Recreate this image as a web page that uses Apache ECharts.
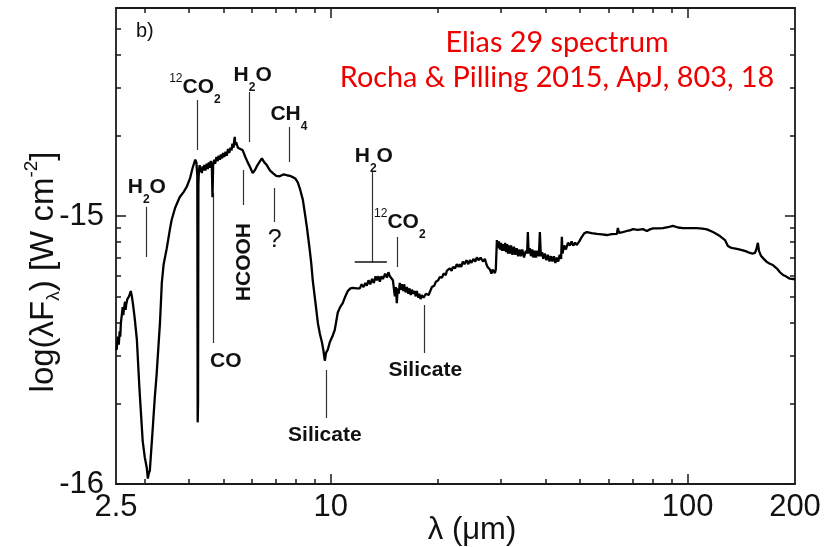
<!DOCTYPE html>
<html><head><meta charset="utf-8">
<script src="https://cdn.jsdelivr.net/npm/echarts@6/dist/echarts.min.js"></script>
<style>html,body{margin:0;padding:0;background:#fff}#c{width:825px;height:547px}</style>
</head><body><div id="c"></div>
<script>
// ---- spectrum: [wavelength (micron), log10(lambda F_lambda) (W cm^-2)]
const spectrum = [
[2.51,-15.50],[2.53,-15.45],[2.545,-15.48],[2.56,-15.43],[2.57,-15.45],[2.58,-15.40],[2.595,-15.37],[2.61,-15.34],[2.62,-15.37],[2.63,-15.35],[2.65,-15.32],[2.66,-15.35],[2.67,-15.33],[2.69,-15.31],[2.72,-15.30],[2.75,-15.28],[2.77,-15.30],[2.79,-15.33],[2.82,-15.38],[2.86,-15.46],[2.91,-15.65],[2.97,-15.84],[3.01,-15.90],[3.05,-15.94],[3.07,-15.98],[3.09,-15.96],[3.11,-15.95],[3.14,-15.87],[3.17,-15.79],[3.21,-15.68],[3.25,-15.59],[3.29,-15.48],[3.32,-15.40],[3.36,-15.25],[3.40,-15.18],[3.47,-15.12],[3.54,-15.05],[3.58,-15.015],[3.66,-14.97],[3.77,-14.93],[3.87,-14.91],[3.95,-14.89],[4.03,-14.86],[4.10,-14.82],[4.17,-14.79],[4.20,-14.80],[4.225,-14.85],[4.235,-15.77],[4.245,-15.70],[4.255,-14.88],[4.27,-14.83],[4.29,-14.81],[4.31,-14.835],[4.33,-14.82],[4.35,-14.84],[4.37,-14.815],[4.39,-14.83],[4.42,-14.81],[4.45,-14.83],[4.49,-14.805],[4.52,-14.825],[4.55,-14.80],[4.58,-14.82],[4.61,-14.795],[4.64,-14.81],[4.66,-14.93],[4.68,-14.81],[4.71,-14.79],[4.74,-14.805],[4.78,-14.78],[4.82,-14.795],[4.85,-14.775],[4.89,-14.79],[4.92,-14.77],[4.96,-14.785],[4.99,-14.765],[5.03,-14.78],[5.07,-14.76],[5.11,-14.775],[5.15,-14.75],[5.19,-14.765],[5.23,-14.745],[5.27,-14.755],[5.30,-14.73],[5.34,-14.745],[5.36,-14.72],[5.38,-14.705],[5.40,-14.735],[5.43,-14.725],[5.49,-14.745],[5.56,-14.75],[5.665,-14.755],[5.76,-14.78],[5.85,-14.80],[5.95,-14.82],[6.04,-14.84],[6.12,-14.83],[6.20,-14.815],[6.30,-14.80],[6.41,-14.785],[6.51,-14.80],[6.615,-14.81],[6.75,-14.83],[6.88,-14.84],[7.03,-14.85],[7.19,-14.852],[7.36,-14.845],[7.53,-14.848],[7.68,-14.85],[7.82,-14.855],[7.95,-14.86],[8.08,-14.875],[8.20,-14.90],[8.35,-14.94],[8.46,-14.99],[8.565,-15.04],[8.65,-15.085],[8.73,-15.127],[8.82,-15.18],[8.90,-15.24],[9.05,-15.32],[9.20,-15.40],[9.32,-15.44],[9.44,-15.47],[9.53,-15.50],[9.62,-15.54],[9.70,-15.51],[9.80,-15.50],[9.94,-15.47],[10.10,-15.45],[10.26,-15.425],[10.46,-15.36],[10.62,-15.34],[10.80,-15.325],[10.98,-15.30],[11.16,-15.28],[11.35,-15.27],[11.53,-15.268],[11.8,-15.27],[12.06,-15.27],[12.2,-15.255],[12.35,-15.265],[12.5,-15.25],[12.62,-15.26],[12.75,-15.24],[12.9,-15.255],[13.05,-15.235],[13.2,-15.25],[13.35,-15.225],[13.46,-15.24],[13.6,-15.225],[13.72,-15.245],[13.86,-15.225],[14.0,-15.235],[14.2,-15.215],[14.36,-15.23],[14.5,-15.21],[14.64,-15.225],[14.80,-15.22],[14.93,-15.24],[15.12,-15.30],[15.22,-15.265],[15.31,-15.325],[15.40,-15.27],[15.5,-15.29],[15.61,-15.25],[15.7,-15.275],[15.81,-15.255],[15.95,-15.28],[16.05,-15.255],[16.2,-15.285],[16.34,-15.265],[16.5,-15.29],[16.6,-15.27],[16.75,-15.295],[16.87,-15.275],[17.0,-15.29],[17.15,-15.28],[17.3,-15.30],[17.42,-15.28],[17.6,-15.305],[17.7,-15.29],[17.85,-15.31],[17.99,-15.295],[18.2,-15.305],[18.47,-15.29],[18.8,-15.295],[19.20,-15.265],[19.5,-15.26],[19.7,-15.245],[20.0,-15.24],[20.21,-15.228],[20.5,-15.23],[20.7,-15.215],[21.0,-15.22],[21.14,-15.205],[21.35,-15.21],[21.56,-15.195],[21.8,-15.205],[22.0,-15.19],[22.3,-15.195],[22.55,-15.18],[22.8,-15.19],[23.0,-15.18],[23.2,-15.19],[23.45,-15.17],[23.7,-15.18],[24.0,-15.165],[24.3,-15.18],[24.53,-15.165],[24.8,-15.175],[25.1,-15.16],[25.4,-15.17],[25.67,-15.155],[26.0,-15.165],[26.3,-15.155],[26.7,-15.17],[27.03,-15.16],[27.3,-15.18],[27.5,-15.19],[27.92,-15.20],[28.2,-15.215],[28.4,-15.20],[28.84,-15.213],[29.0,-15.20],
[29.21,-15.09],[29.4,-15.12],[29.6,-15.095],[29.8,-15.125],[30.0,-15.10],[30.2,-15.13],[30.4,-15.105],[30.6,-15.13],[30.8,-15.10],[31.0,-15.135],[31.2,-15.105],[31.4,-15.14],[31.6,-15.11],[31.8,-15.14],[32.0,-15.11],[32.3,-15.145],[32.6,-15.115],[32.9,-15.145],[33.2,-15.12],[33.5,-15.15],[33.8,-15.125],[34.1,-15.15],[34.4,-15.125],[34.8,-15.155],[35.2,-15.13],[35.5,-15.14],[35.67,-15.06],[35.85,-15.14],[36.1,-15.12],[36.4,-15.15],[36.7,-15.125],[37.0,-15.155],[37.3,-15.13],[37.6,-15.155],[37.9,-15.13],[38.3,-15.15],[38.54,-15.06],[38.8,-15.15],[39.1,-15.135],[39.4,-15.16],[39.8,-15.14],[40.2,-15.165],[40.6,-15.145],[41.0,-15.17],[41.4,-15.15],[41.8,-15.17],[42.2,-15.15],[42.6,-15.175],[43.0,-15.155],[43.4,-15.17],[43.8,-15.145],[44.2,-15.16],[44.42,-15.078],[44.6,-15.14],
[44.71,-15.134],[45.1,-15.11],[45.6,-15.125],[46.2,-15.10],[46.77,-15.11],[47.3,-15.095],[47.8,-15.11],[48.4,-15.10],[48.94,-15.108],[49.7,-15.095],[50.54,-15.078],[51.3,-15.065],[52.20,-15.06],[53.8,-15.064],[55.68,-15.067],[57.5,-15.069],[59.38,-15.071],[61.3,-15.068],[63.35,-15.067],[63.76,-15.045],[64.2,-15.063],[65.8,-15.06],[67.58,-15.056],[68.9,-15.054],[70.25,-15.049],[72.5,-15.052],[74.94,-15.049],[76.90,-15.056],[78.4,-15.05],[79.93,-15.046],[82.5,-15.046],[85.25,-15.045],[88,-15.042],[90.95,-15.037],[94,-15.043],[97.0,-15.045],[101.5,-15.045],[106.2,-15.045],[110,-15.047],[113.3,-15.05],[117.8,-15.06],[120.5,-15.067],[123.2,-15.075],[127.3,-15.09],[129.7,-15.112],[132,-15.118],[134.0,-15.12],[138.5,-15.124],[142.9,-15.128],[146,-15.132],[149.5,-15.138],[152,-15.14],[154.4,-15.138],[155.8,-15.125],[157.4,-15.10],[158.5,-15.13],[160.5,-15.148],[163.5,-15.16],[166.9,-15.172],[170,-15.178],[173.4,-15.183],[175.6,-15.19],[178.0,-15.196],[181.5,-15.21],[185.0,-15.22],[188,-15.224],[191.1,-15.23],[193.6,-15.234],[196.1,-15.24],[199.9,-15.236]
];

// ---- axes
const xMin = 2.5, xMax = 200;
const yMin = -16, yMax = -14.224;
const xTickLabels = [2.5, 10, 100, 200];
const xMajorTicks = [10, 100];
const xMinorTicks = [3,4,5,6,7,8,9,20,30,40,50,60,70,80,90];
const yTickLabels = [-16, -15];
const yMajorTicks = [-16, -15];
const yMinorMultipliers = [2,3,4,5,6,7,8,9];

// ---- feature annotations
const leaderLam    = [3.03, 4.21, 5.89, 7.63, 5.70, 6.92, 4.67, 13.03, 15.31, 9.68, 18.23];
const leaderTop    = [-14.966,-14.567,-14.537,-14.668,-14.828,-14.896,-14.914,-14.836,-15.078,-15.575,-15.332];
const leaderBottom = [-15.153,-14.754,-14.724,-14.799,-14.959,-15.022,-15.474,-15.172,-15.190,-15.754,-15.511];
const barLam = [11.67, 14.36];
const barLogF = -15.172;
const labelText = ['H_2O','^{12}CO_2','H_2O','CH_4','HCOOH','?','CO','H_2O','^{12}CO_2','Silicate','Silicate'];
const labelLam  = [3.05, 4.16, 6.04, 7.63, 5.70, 6.96, 5.08, 13.20, 15.61, 9.62, 18.40];
const labelLogF = [-14.892,-14.519,-14.474,-14.619,-15.172,-15.090,-15.541,-14.776,-15.022,-15.817,-15.575];
const labelRotate = [0,0,0,0,90,0,0,0,0,0,0];

const yMinorTicks = [];
[-16, -15].forEach(d => yMinorMultipliers.forEach(m => yMinorTicks.push(d + Math.log10(m))));

const FAM = '"Liberation Sans", Arial, sans-serif';
const ctx = document.createElement('canvas').getContext('2d');
function measure(t, font) { ctx.font = font; return ctx.measureText(t).width; }

function parseChem(s) {
  const parts = []; let i = 0, buf = '';
  while (i < s.length) {
    const c = s[i];
    if (c === '_' || c === '^') {
      if (buf) { parts.push({t: buf, k: 'n'}); buf = ''; }
      let txt;
      if (s[i+1] === '{') { const j = s.indexOf('}', i); txt = s.slice(i+2, j); i = j + 1; }
      else { txt = s[i+1]; i += 2; }
      parts.push({t: txt, k: c === '_' ? 'sub' : 'sup'});
    } else { buf += c; i++; }
  }
  if (buf) parts.push({t: buf, k: 'n'});
  return parts;
}
function buildChem(s, o) {
  const parts = parseChem(s);
  const pieces = parts.map(p => {
    let size = o.size, weight = o.weight, dy = 0;
    if (p.k === 'sub') { size = o.subSize; weight = o.subWeight; dy = o.subDy; }
    if (p.k === 'sup') { size = o.supSize; weight = o.supWeight; dy = o.supDy; }
    const font = weight + ' ' + size + 'px ' + FAM;
    return {t: p.t, font, dy, w: measure(p.t, font)};
  });
  const total = pieces.reduce((a, p) => a + p.w, 0);
  let cx = -total / 2;
  return pieces.map(p => {
    const el = {type: 'text', x: cx, y: p.dy, silent: true,
      style: {text: p.t, font: p.font, fill: o.fill || '#111', textAlign: 'left', textVerticalAlign: 'middle', align: 'left', verticalAlign: 'middle'}};
    cx += p.w;
    return el;
  });
}
const labelStyle = {size: 21, weight: 'bold', subSize: 12, subWeight: 'bold', subDy: 13, supSize: 12, supWeight: 'normal', supDy: -8};
const qStyle = {size: 25, weight: 'normal', subSize: 12, subWeight: 'bold', subDy: 13, supSize: 12, supWeight: 'normal', supDy: -8};

const chart = echarts.init(document.getElementById('c'), null, {renderer: 'canvas'});
const lineCol = '#1a1a1a';
function xAxisDef(pos, ticks, len, labels, line) {
  return {type: 'log', logBase: 10, min: xMin, max: xMax, position: pos,
    axisLine: {show: line, lineStyle: {color: lineCol, width: 1.8}},
    axisTick: {show: true, inside: true, length: len, customValues: ticks, lineStyle: {color: lineCol, width: 1.5}},
    axisLabel: labels ? {show: true, customValues: xTickLabels, margin: 8, color: '#111', fontSize: 31,
      fontFamily: '"Liberation Sans Narrow", "Liberation Sans", Arial', hideOverlap: false,
      formatter: v => String(Math.round(v * 10) / 10)} : {show: false},
    splitLine: {show: false}, minorTick: {show: false}};
}
function yAxisDef(pos, ticks, len, labels, line) {
  return {type: 'value', min: yMin, max: yMax, position: pos,
    axisLine: {show: line, onZero: false, lineStyle: {color: lineCol, width: 1.8}},
    axisTick: {show: true, inside: true, length: len, customValues: ticks, lineStyle: {color: lineCol, width: 1.5}},
    axisLabel: labels ? {show: true, customValues: yTickLabels, margin: 12, color: '#111', fontSize: 31,
      fontFamily: '"Liberation Sans Narrow", "Liberation Sans", Arial', hideOverlap: false,
      formatter: v => String(Math.round(v))} : {show: false},
    splitLine: {show: false}, minorTick: {show: false}};
}

const option = {
  animation: false,
  backgroundColor: '#fff',
  grid: {left: 116, right: 30, top: 8, bottom: 63, containLabel: false, outerBoundsMode: 'none'},
  xAxis: [
    xAxisDef('bottom', xMajorTicks, 10, true, true),
    xAxisDef('bottom', xMinorTicks, 5, false, false),
    xAxisDef('top', xMajorTicks, 10, false, true),
    xAxisDef('top', xMinorTicks, 5, false, false)
  ],
  yAxis: [
    yAxisDef('left', yMajorTicks, 10, true, true),
    yAxisDef('left', yMinorTicks, 5, false, false),
    yAxisDef('right', yMajorTicks, 10, false, true),
    yAxisDef('right', yMinorTicks, 5, false, false)
  ],
  series: [
    {type: 'line', xAxisIndex: 0, yAxisIndex: 0, showSymbol: false, symbol: 'none', silent: true,
      data: spectrum,
      lineStyle: {color: '#000', width: 2.3}, z: 3},
    {type: 'lines', coordinateSystem: 'cartesian2d', xAxisIndex: 0, yAxisIndex: 0, silent: true,
      lineStyle: {color: '#333', width: 1.2, opacity: 1},
      data: leaderLam.map((l, i) => ({coords: [[l, leaderTop[i]], [l, leaderBottom[i]]]}))
        .concat([{coords: [[barLam[0], barLogF], [barLam[1], barLogF]], lineStyle: {width: 1.6, color: '#111'}}]), z: 2},
    {type: 'custom', xAxisIndex: 0, yAxisIndex: 0, silent: true, clip: false,
      data: labelText.map((t, i) => [labelLam[i], labelLogF[i], i]),
      renderItem: (params, api) => {
        const i = api.value(2);
        const p = api.coord([api.value(0), api.value(1)]);
        const t = labelText[i];
        return {type: 'group', x: p[0], y: p[1], rotation: labelRotate[i] * Math.PI / 180,
          children: buildChem(t, t === '?' ? qStyle : labelStyle)};
      }, z: 4}
  ],
  graphic: []
};
chart.setOption(option);

// ---- page texts outside of data
const titleFont = 'Lato, "Noto Sans", sans-serif';
const line2 = 'Rocha & Pilling 2015, ApJ, 803, 18';
const redSize = Math.round(100 * 435 / measure(line2, '100px ' + titleFont) * 10) / 10;
const yTitle = buildChem('log(λF_λ) [W cm^{-2}]', {size: 33, weight: 'normal', subSize: 19, subWeight: 'normal', subDy: 10, supSize: 19, supWeight: 'normal', supDy: -12});
chart.setOption({graphic: [
  {type: 'text', x: 136, y: 31, style: {text: 'b)', font: '20px ' + FAM, fill: '#111', textVerticalAlign: 'middle', verticalAlign: 'middle'}},
  {type: 'text', x: 557, y: 43, style: {text: 'Elias 29 spectrum', font: redSize + 'px ' + titleFont, fill: '#ee0000', textAlign: 'center', align: 'center', textVerticalAlign: 'middle', verticalAlign: 'middle'}},
  {type: 'text', x: 557, y: 78, style: {text: line2, font: redSize + 'px ' + titleFont, fill: '#ee0000', textAlign: 'center', align: 'center', textVerticalAlign: 'middle', verticalAlign: 'middle'}},
  {type: 'text', x: 472, y: 530, style: {text: 'λ (μm)', font: '31px "Liberation Sans Narrow", "Liberation Sans", Arial', fill: '#111', textAlign: 'center', align: 'center', textVerticalAlign: 'middle', verticalAlign: 'middle'}},
  {type: 'group', x: 44, y: 272, rotation: Math.PI / 2, children: yTitle}
]});
</script></body></html>
